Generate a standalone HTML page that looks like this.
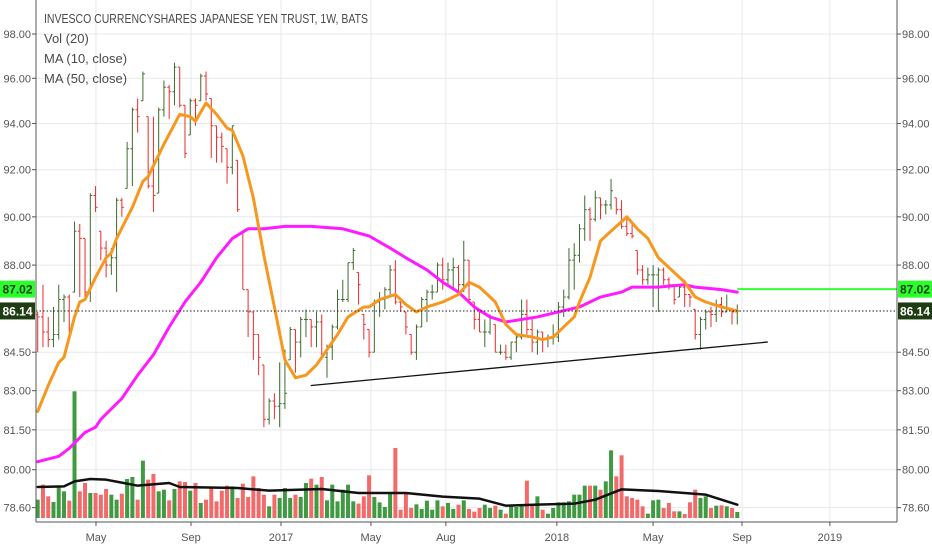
<!DOCTYPE html>
<html><head><meta charset="utf-8"><style>
html,body{margin:0;padding:0;background:#fff;width:932px;height:550px;overflow:hidden}
svg{display:block;font-family:"Liberation Sans",sans-serif}
</style></head><body>
<svg id="chart" width="932" height="550" viewBox="0 0 932 550" xmlns="http://www.w3.org/2000/svg">
<rect x="0" y="0" width="932" height="550" fill="#fff"/>
<g id="grid"></g>
<g id="vol"></g>
<g id="bars"></g>
<g id="lines"></g>
<g id="axes"></g>
<g fill="#4a4a4a" font-size="13">
<text x="44" y="23" textLength="324" lengthAdjust="spacingAndGlyphs">INVESCO CURRENCYSHARES JAPANESE YEN TRUST, 1W, BATS</text>
<text x="44" y="43">Vol (20)</text>
<text x="44" y="63">MA (10, close)</text>
<text x="44" y="83">MA (50, close)</text>
</g>
</svg>
<script>
const highs=[86.1,87.2,85.9,86.3,87.2,86.8,86.8,89.8,89.7,89.1,91.0,91.3,89.4,89.0,88.7,90.8,90.8,93.2,94.7,95.1,96.3,94.3,94.3,94.7,95.9,95.7,96.7,96.5,94.8,95.1,95.1,96.2,96.3,95.1,93.9,93.6,92.9,93.9,92.4,89.3,87.0,86.1,85.2,84.0,82.7,82.9,84.1,84.6,85.5,85.4,85.9,86.2,85.8,86.1,86.0,84.8,85.6,87.0,87.4,88.1,88.7,87.7,86.0,85.4,86.6,86.9,87.1,88.0,88.2,86.5,86.1,85.2,85.6,86.7,87.0,87.2,88.1,88.3,88.1,88.3,88.0,89.0,88.2,86.5,86.2,85.8,86.0,85.6,84.8,84.8,84.9,85.2,86.6,86.6,85.9,85.4,85.3,85.2,85.6,86.5,87.0,88.7,88.9,89.7,90.9,90.4,91.1,90.8,90.7,91.6,90.8,90.7,89.9,89.7,88.6,88.0,87.9,88.0,87.9,87.9,87.5,87.2,87.2,87.4,86.8,86.2,85.9,86.2,86.3,86.6,86.7,86.8,86.2,86.4];
const lows=[84.5,84.7,84.7,84.7,85.0,85.7,85.3,86.9,86.7,86.7,86.5,90.2,88.2,87.5,87.6,86.9,90.0,91.2,91.3,93.6,95.0,91.2,90.2,91.0,94.3,94.2,94.8,94.7,92.5,93.5,93.9,95.0,95.0,92.5,92.3,92.3,91.4,91.8,90.2,87.0,85.1,84.2,83.6,81.6,81.7,81.9,81.6,82.3,84.2,83.7,84.3,85.1,84.7,84.7,84.2,83.5,84.2,85.4,86.5,86.5,87.8,86.4,85.0,84.3,84.5,85.9,86.2,86.8,86.4,86.1,85.2,84.4,84.2,85.5,85.7,86.6,86.9,87.0,87.2,87.0,86.8,86.9,86.6,85.4,85.3,84.7,85.2,84.5,84.4,84.2,84.2,84.5,85.0,85.2,84.5,84.4,84.5,84.7,84.8,84.9,85.9,86.6,87.0,88.1,89.0,89.0,89.8,89.9,90.1,90.3,90.1,89.5,89.2,89.1,87.6,87.2,87.2,86.3,86.1,87.2,87.0,86.4,86.7,86.3,86.3,85.0,84.6,85.4,85.5,85.7,85.9,86.1,85.6,85.6];
const closes=[85.9,85.3,85.0,85.2,86.6,86.7,85.4,89.4,89.1,86.9,90.9,90.4,88.7,88.0,88.3,90.7,90.4,92.9,94.6,94.3,96.2,91.3,90.9,94.6,95.6,95.4,96.5,94.8,92.7,95.0,94.8,96.1,95.3,93.9,93.4,93.0,92.1,93.9,90.3,87.0,86.1,85.2,84.3,81.9,82.6,82.4,82.5,82.9,85.4,84.9,85.8,85.8,85.5,85.7,84.3,84.7,85.5,86.6,86.6,88.1,88.6,87.2,85.6,84.5,86.5,86.6,87.0,87.8,86.5,86.3,85.5,84.5,85.5,86.6,86.9,86.9,88.0,87.4,87.8,87.9,87.2,88.2,86.6,85.8,85.3,85.3,85.9,84.5,84.5,84.3,84.9,85.1,86.0,85.4,84.9,85.3,85.0,85.1,85.1,86.3,86.7,88.2,88.4,89.5,90.3,89.9,90.8,90.5,90.5,91.1,90.3,89.6,89.3,89.2,87.8,87.4,87.6,87.6,87.8,87.4,87.2,86.6,87.1,86.8,86.7,85.2,85.8,86.1,86.0,86.4,86.1,86.2,86.1,86.14];
const volumes=[55,100,65,48,95,80,52,380,80,105,75,75,70,87,70,55,73,117,123,55,172,115,132,80,85,53,87,110,108,82,105,45,55,90,50,82,97,95,60,103,63,125,90,70,35,70,60,90,60,70,63,105,118,100,123,53,100,50,85,100,50,43,65,128,63,47,33,75,210,25,75,30,41,27,52,25,53,35,45,27,40,53,27,19,30,40,30,37,25,13,35,33,40,112,40,65,25,13,30,47,47,50,70,70,97,97,97,85,110,203,125,188,65,60,55,35,13,53,55,30,45,20,20,12,47,85,60,65,30,37,38,35,30,18];
const ma10Weeks=[0,2,4,5,7,8,9,11,13,14,15,18,20,21,24,27,29,30,32,34,36,37,39,41,43,45,47,49,51,53,55,57,59,62,63,65,68,70,72,74,77,80,82,84,87,89,91,94,96,98,100,102,103,105,107,110,112,114,116,118,120,123,125,127,130,133];
const ma10Vals=[82.2,83.2,84.1,84.3,85.9,86.5,86.6,87.5,88.3,88.5,89.1,90.4,91.5,91.7,93.1,94.4,94.3,94.1,94.9,94.4,93.8,93.7,92.6,90.8,88.4,86.3,84.2,83.5,83.6,84.0,84.6,85.2,85.9,86.3,86.3,86.6,86.8,86.4,86.1,86.3,86.5,86.8,87.3,87.1,86.5,85.6,85.2,85.1,85.0,85.1,85.5,85.9,86.5,87.5,89.0,89.6,90.0,89.5,89.1,88.3,87.9,87.3,86.7,86.5,86.3,86.14];
const ma50Weeks=[0,4,6,9,11,12,16,19,22,25,28,31,34,37,40,43,47,52,58,63,67,70,74,77,80,83,86,89,92,95,99,103,107,111,113,118,123,125,130,133];
const ma50Vals=[80.3,80.5,80.8,81.4,81.6,81.9,82.7,83.6,84.4,85.5,86.5,87.3,88.3,89.1,89.5,89.5,89.6,89.6,89.5,89.2,88.7,88.3,87.8,87.3,86.9,86.3,85.9,85.7,85.8,85.9,86.1,86.3,86.7,86.9,87.1,87.1,87.2,87.1,87.0,86.9];
const volMaWeeks=[0,5,7,10,13,19,25,27,38,44,54,61,70,77,84,89,95,102,106,111,118,127,133];
const volMaVals=[93,95,110,117,115,97,105,93,90,82,87,75,75,64,58,37,40,43,55,86,81,70,40];
const trendWeeks=[52,138.7];
const trendVals=[83.2,84.9];
const priceTicks=[98,96,94,92,90,88,84.5,83,81.5,80,78.6];
const dateTickWeeks=[11.08,29.14,46.25,63.35,77.6,98.7,116.99,133.9,150.6];
const dateTickLabels=['May','Sep','2017','May','Aug','2018','May','Sep','2019'];
const lastPrice=86.14, ma50Last=87.02;

const NS='http://www.w3.org/2000/svg';
const L=36,R=897,B=522;
function xS(w){return 37.7+w*5.26;}
function yP(v){return 34+(Math.log(98)-Math.log(v))*2147;}
function yV(v){return 518-v/3;}
function mk(tag,attrs,parent){const e=document.createElementNS(NS,tag);for(const k in attrs)e.setAttribute(k,attrs[k]);parent.appendChild(e);return e;}
const grid=document.getElementById('grid'),axes=document.getElementById('axes'),bars=document.getElementById('bars'),vol=document.getElementById('vol'),lines=document.getElementById('lines');

priceTicks.forEach(v=>{const y=yP(v);
 const g=mk('line',{x1:L,x2:R,y1:y,y2:y,stroke:'#e6e8ec','stroke-width':1},grid);
 
 
 const t1=mk('text',{x:902,y:y+4,'font-size':11,fill:'#555'},axes);t1.textContent=v.toFixed(2);
 
 
 const t2=mk('text',{x:31,y:y+4,'font-size':11,fill:'#555','text-anchor':'end'},axes);t2.textContent=v.toFixed(2);
 
 
 mk('line',{x1:R,x2:R+4,y1:y,y2:y,stroke:'#555'},axes);
 mk('line',{x1:L-4,x2:L,y1:y,y2:y,stroke:'#555'},axes);
});
dateTickWeeks.forEach((w,i)=>{const x=xS(w);
 const g=mk('line',{x1:x,x2:x,y1:0,y2:B,stroke:'#e6e8ec','stroke-width':1},grid);
 
 
 const t=mk('text',{x:x,y:541,'font-size':11,fill:'#555','text-anchor':'middle'},axes);t.textContent=dateTickLabels[i];
 
 
 mk('line',{x1:x,x2:x,y1:B,y2:B+4,stroke:'#555'},axes);
});

volumes.forEach((v,i)=>{const up=i===0?true:closes[i]>=closes[i-1];
 const r=mk('rect',{x:xS(i)-2,y:yV(v),width:4,height:v/3,fill:up?'#3f9a42':'#f26a6a'},vol);
 
 
});

closes.forEach((c,i)=>{const o=i===0?86.0:closes[i-1];const up=c>=o;const col=up?'#3d6b2d':'#ee2a2a';const x=xS(i);
 const oc=Math.min(Math.max(o,lows[i]),highs[i]);
 const g=mk('g',{stroke:col,'stroke-width':1},bars);
 
 
 mk('line',{x1:x,x2:x,y1:yP(highs[i]),y2:yP(lows[i])},g);
 mk('line',{x1:x-2,x2:x,y1:yP(oc),y2:yP(oc)},g);
 mk('line',{x1:x,x2:x+2,y1:yP(c),y2:yP(c)},g);
});

function poly(ws,vs,yf,stroke,w,name){const p=mk('polyline',{points:ws.map((x,i)=>xS(x)+','+yf(vs[i])).join(' '),fill:'none',stroke:stroke,'stroke-width':w,'stroke-linejoin':'round','stroke-linecap':'round'},lines);
 
 }
poly(volMaWeeks,volMaVals,yV,'#111',2.5,'volume-ma-line');
poly(trendWeeks,trendVals,yP,'#111',1.3,'trend-line');
poly(ma50Weeks,ma50Vals,yP,'#ff1aff',3,'ma50-line');
poly(ma10Weeks,ma10Vals,yP,'#f7971e',3,'ma10-line');

const yl=yP(lastPrice),ym=yP(ma50Last);
const dl=mk('line',{x1:L,x2:R,y1:yl,y2:yl,stroke:'#222','stroke-dasharray':'1.5,2','stroke-width':1},lines);


const gl=mk('line',{x1:xS(ma50Weeks[ma50Weeks.length-1]),x2:R,y1:ym,y2:ym,stroke:'#33ff33','stroke-width':2},lines);



mk('line',{x1:L,x2:L,y1:0,y2:B,stroke:'#555'},axes);
mk('line',{x1:R,x2:R,y1:0,y2:B,stroke:'#555'},axes);
mk('line',{x1:L,x2:R,y1:B,y2:B,stroke:'#555'},axes);

function badge(x,w,y,val,bg,fg,name){const g=mk('g',{},axes);
 
 
 mk('rect',{x:x,y:y-8.5,width:w,height:17,fill:bg},g);
 const t=mk('text',{x:x+w/2,y:y+4.5,'font-size':12,'font-weight':'bold',fill:fg,'text-anchor':'middle'},g);t.textContent=val.toFixed(2);}
badge(898,34,ym,ma50Last,'#2bff2b','#1a3d12','right-ma50-badge');
badge(898,34,yl,lastPrice,'#1f3d12','#fff','right-last-price-badge');
badge(0,35,ym,ma50Last,'#2bff2b','#1a3d12','left-ma50-badge');
badge(0,35,yl,lastPrice,'#1f3d12','#fff','left-last-price-badge');
</script>
</body></html>
